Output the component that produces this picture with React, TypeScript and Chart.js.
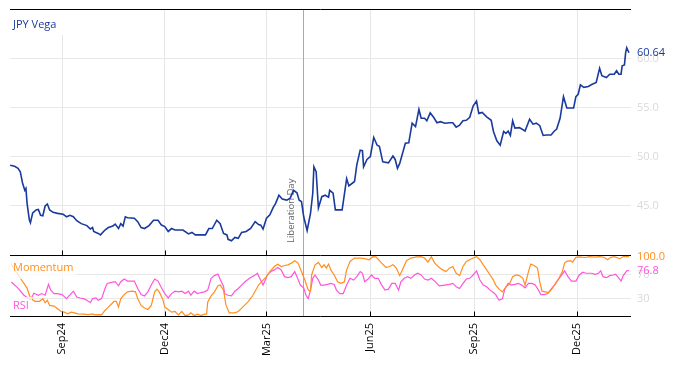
import { useEffect, useRef } from "react";
import { Chart, registerables } from "chart.js";

Chart.register(...registerables);

// x values are calendar days counted from 2024-07-01 (day 0)
const vegaDays = [16,20,23,25,27,29,30,31,33,34,36,39,41,43,45,47,49,51,54,58,63,66,69,72,75,79,84,87,89,90,94,96,100,103,107,109,112,114,116,118,120,126,129,132,135,139,143,147,150,153,156,159,162,166,169,174,177,180,184,189,192,195,199,202,205,208,209,212,215,218,221,225,229,233,236,238,240,243,246,249,251,253,254,257,261,264,267,270,272,274,276,279,282,284,285,287,289,292,295,298,299,302,304,310,314,316,321,323,326,328,329,332,335,338,341,343,346,351,355,357,359,361,366,369,372,375,378,380,383,385,388,391,394,397,401,405,408,411,414,417,420,423,426,429,431,434,438,442,444,447,450,453,455,457,459,461,463,467,472,476,479,482,485,488,491,495,498,500,503,506,509,512,515,517,519,521,524,528,531,535,538,540,544,547,551,553,555,557,558,560,561,562,564];
const vegaValues = [49.15,49.05,48.85,48.5,47.35,46.6,46.8,45.3,43.6,43.3,44.3,44.6,44.65,44.05,44.0,45.0,45.2,44.6,44.35,44.25,44.15,43.9,44.05,43.9,43.5,43.2,43.0,42.65,42.8,42.4,42.2,42.05,42.55,42.8,42.95,43.15,42.7,43.2,42.95,43.9,43.8,43.75,43.4,42.8,42.7,43.0,43.55,43.55,43.05,42.9,42.4,42.7,42.55,42.55,42.55,42.15,42.3,42.05,42.05,42.05,42.7,42.7,43.55,43.2,42.2,42.05,41.6,41.45,41.8,41.7,42.3,42.4,42.7,43.4,43.1,43.05,42.65,43.75,44.1,44.85,45.25,45.8,46.1,45.7,45.6,45.8,46.6,46.35,45.6,45.45,43.9,42.5,44.25,46.3,49.0,48.5,44.8,45.95,46.1,45.9,46.6,46.3,44.6,44.6,47.8,47.05,47.5,49.2,50.7,50.65,49.0,49.75,50.05,52.0,51.2,51.1,49.5,49.4,50.1,49.75,48.85,49.35,51.4,51.45,53.45,53.1,54.85,53.95,53.95,53.7,54.5,54.05,53.5,53.6,53.45,53.5,53.5,53.05,53.25,53.7,53.75,54.05,55.2,55.7,54.45,54.55,54.1,53.75,52.6,51.65,51.2,52.6,52.4,52.65,52.2,53.7,52.95,53.0,52.65,53.85,53.35,53.45,53.2,52.2,52.25,52.25,52.65,52.85,53.95,56.15,55.0,55.0,55.0,56.15,56.4,57.35,57.1,57.2,57.4,57.6,59.05,58.3,58.1,58.45,58.45,58.8,58.45,58.45,59.3,59.4,60.6,61.15,60.64];

const momentumDays = [17,25,31,34,38,42,45,47,49,51,55,58,61,64,67,70,73,76,81,85,89,91,94,97,100,103,106,108,110,112,114,117,120,124,127,129,132,135,138,141,144,146,148,151,153,156,159,162,165,168,171,174,176,179,182,185,188,190,191,194,197,200,202,205,207,210,215,218,222,227,231,236,240,243,246,250,253,256,259,262,265,268,271,274,277,280,282,283,286,289,292,294,296,298,300,303,306,309,312,314,317,321,326,330,334,337,340,345,349,352,355,358,361,364,367,371,376,380,383,386,389,392,395,399,402,405,408,411,414,417,420,423,426,429,432,435,438,441,444,446,449,452,455,458,461,464,467,470,472,475,477,480,483,485,487,490,493,496,499,502,505,507,509,512,514,517,520,525,529,534,538,542,545,548,551,556,559,564];
const momentumValues = [86.9,64.3,47.3,30.3,25.2,25.2,29.7,22.9,26.9,18.4,17.3,12.7,8.2,7.1,4.2,7.1,6.0,4.2,3.7,3.1,4.2,2.5,3.1,2.5,9.9,15.6,21.2,25.2,25.2,15.6,29.7,36.5,41.0,42.2,41.0,29.7,18.4,13.9,11.6,18.4,41.0,45.6,41.0,29.7,15.6,11.6,7.1,8.2,2.5,8.2,1.4,2.5,6.0,1.4,3.7,1.4,3.7,4.2,24.1,34.2,41.0,51.2,52.5,44.0,20.0,5.9,5.9,8.2,15.6,25.2,35.4,52.4,60.8,66.5,75.0,83.5,87.4,83.5,85.2,86.3,89.1,93.1,89.1,75.0,60.8,43.9,42.2,69.3,86.3,90.3,81.8,86.3,80.7,87.4,77.8,69.3,58.0,55.2,58.0,77.8,92.0,97.6,97.6,96.5,94.8,99.8,99.5,89.1,81.8,83.5,86.3,80.7,68.2,80.7,93.1,97.6,99.5,100,97.6,90.8,100,89.1,83.5,77.8,75.0,80.7,83.5,72.2,68.2,83.5,92.0,94.8,97.6,100,94.8,86.3,77.8,69.3,60.8,52.4,45.6,41.0,49.5,53.5,66.5,69.3,68.2,63.7,52.4,75.0,87.4,85.2,80.7,58.0,42.2,41.0,39.9,46.7,55.2,63.7,75.0,89.1,92.0,93.1,90.8,98.8,99.5,98.5,100,99.0,100,99.0,94.8,98.8,100,96.5,100,100];

const rsiDays = [17,23,28,34,37,41,44,47,50,52,55,58,62,66,70,72,75,78,81,84,87,89,92,94,97,100,102,106,109,112,114,117,120,123,126,129,132,135,138,141,144,147,150,153,156,159,162,165,168,171,174,176,179,182,185,188,191,194,197,200,202,205,206,209,212,215,218,221,224,228,233,235,237,240,242,244,247,250,253,256,259,262,265,268,270,273,276,278,280,282,284,286,289,291,294,297,300,303,305,308,311,314,317,320,323,326,328,330,333,336,339,342,345,348,351,354,357,360,362,365,368,371,374,377,380,383,386,389,392,396,401,405,408,411,414,417,420,423,426,429,432,435,438,441,444,446,449,452,454,457,460,463,466,469,472,475,478,481,483,486,489,492,495,498,501,504,507,510,513,517,520,523,526,531,534,537,539,541,544,547,550,552,554,557,559,562,564];
const rsiValues = [57.5,47.3,35.9,27.5,38.8,35.4,38.2,35.4,53.5,43.9,38.2,38.2,36.5,29.7,38.2,42.2,32.5,30.8,29.7,26.9,22.9,29.7,30.8,26.9,29.7,46.7,55.2,56.9,58.0,51.2,58.0,62.5,59.1,59.1,59.1,46.7,36.5,34.2,41.0,52.4,62.5,59.1,47.8,38.2,30.8,38.2,42.2,41.0,42.2,38.2,42.2,35.4,42.2,38.2,39.9,41.0,43.9,63.7,68.2,71.0,62.0,50.0,38.0,35.4,34.2,42.2,46.7,52.4,58.0,63.7,69.3,72.2,63.7,52.4,60.8,70.5,75.0,77.8,81.8,77.8,66.5,64.8,66.5,75.0,66.5,52.4,47.8,35.4,29.7,43.9,63.7,69.3,60.8,52.4,52.4,53.5,55.2,53.5,43.9,38.2,38.2,52.4,63.7,60.8,66.5,75.0,72.2,58.0,62.5,69.3,63.7,63.7,52.4,43.9,45.6,55.2,55.2,43.9,58.0,63.7,66.5,63.7,69.3,72.2,69.3,62.5,60.8,63.7,59.1,51.2,52.4,53.5,55.2,49.5,46.7,55.2,62.5,63.7,69.3,76.1,60.8,52.4,49.5,43.9,39.9,36.5,26.9,29.7,45.6,55.2,52.4,53.5,55.2,52.4,47.8,55.2,55.2,52.4,46.7,36.5,36.5,38.2,45.6,52.4,60.8,68.2,76.1,66.5,59.1,59.1,69.3,73.9,72.2,72.2,70.5,72.2,76.1,66.5,64.8,68.2,69.3,70.5,66.5,59.1,68.2,76.1,76.8];

const xTickDays = [62, 153, 243, 335, 427, 518];
const xTickLabels = ["Sep24", "Dec24", "Mar25", "Jun25", "Sep25", "Dec25"];
const vegaTicks = [45, 50, 55, 60];
const oscTicks = [30, 70];
const eventDay = 275;
const eventLabel = "Liberation Day";
const vegaName = "JPY Vega";
const momentumName = "Momentum";
const rsiName = "RSI";

const FONT = "'Open Sans', 'DejaVu Sans', sans-serif";
const C_VEGA = "#1a3a9e";
const C_MOM = "#ff8f1f";
const C_RSI = "#ff55dd";

export default function App() {
  const ref = useRef<HTMLCanvasElement>(null);

  useEffect(() => {
    if (!ref.current) return;
    const pts = (d: number[], v: number[]) => d.map((x, i) => ({ x, y: v[i] }));

    const overlay = {
      id: "overlay",
      beforeDatasetsDraw(chart: any) {
        const { ctx, chartArea } = chart;
        const ex = Math.round(chart.scales.x.getPixelForValue(eventDay)) + 0.5;
        ctx.save();
        ctx.strokeStyle = "#aaaaaa";
        ctx.lineWidth = 1;
        ctx.beginPath();
        ctx.moveTo(ex, chartArea.top);
        ctx.lineTo(ex, chartArea.bottom);
        ctx.stroke();
        ctx.translate(ex - 12, 243);
        ctx.rotate(-Math.PI / 2);
        ctx.fillStyle = "#666666";
        ctx.font = `9.5px ${FONT}`;
        ctx.textAlign = "left";
        ctx.textBaseline = "middle";
        ctx.fillText(eventLabel, 0, 0);
        ctx.restore();
      },
      afterDatasetsDraw(chart: any) {
        const { ctx, chartArea } = chart;
        const xs = chart.scales.x;
        const ys = chart.scales.y;
        const y2 = chart.scales.y2;
        const mid = Math.round(ys.bottom) + 0.5;
        const top = Math.round(chartArea.top) + 0.5;
        const bot = Math.round(chartArea.bottom) - 0.5;
        ctx.save();
        ctx.strokeStyle = "#000000";
        ctx.lineWidth = 1;
        ctx.beginPath();
        for (const yy of [top, mid, bot]) {
          ctx.moveTo(chartArea.left, yy);
          ctx.lineTo(chartArea.right, yy);
        }
        for (const d of xTickDays) {
          const px = Math.round(xs.getPixelForValue(d)) + 0.5;
          ctx.moveTo(px, mid - 5);
          ctx.lineTo(px, mid);
          ctx.moveTo(px, bot - 5);
          ctx.lineTo(px, bot);
        }
        ctx.stroke();

        // series name boxes
        ctx.fillStyle = "#ffffff";
        ctx.fillRect(chartArea.left, chartArea.top + 1, 53, 25);
        ctx.fillStyle = "rgba(255,255,255,0.75)";
        ctx.fillRect(chartArea.left, 258, 66, 21);
        ctx.fillRect(chartArea.left, 297, 22, 17);
        ctx.font = `11px ${FONT}`;
        ctx.textAlign = "left";
        ctx.textBaseline = "middle";
        ctx.fillStyle = C_VEGA;
        ctx.fillText(vegaName, 13, 25);
        ctx.fillStyle = C_MOM;
        ctx.fillText(momentumName, 13, 268);
        ctx.fillStyle = C_RSI;
        ctx.fillText(rsiName, 13, 306);

        // last value labels
        const lx = chartArea.right + 6;
        const lastV = vegaValues[vegaValues.length - 1];
        const lastM = momentumValues[momentumValues.length - 1];
        const lastR = rsiValues[rsiValues.length - 1];
        ctx.fillStyle = C_VEGA;
        ctx.fillText(lastV.toFixed(2), lx, ys.getPixelForValue(lastV));
        ctx.fillStyle = C_MOM;
        ctx.fillText(lastM.toFixed(1), lx, y2.getPixelForValue(lastM));
        ctx.fillStyle = C_RSI;
        ctx.fillText(lastR.toFixed(1), lx, y2.getPixelForValue(lastR));
        ctx.restore();
      },
    };

    const yFit = (ax: any) => {
      ax.width = 43;
      ax.paddingTop = 0;
      ax.paddingBottom = 0;
    };

    const chart = new Chart(ref.current, {
      type: "line",
      data: {
        datasets: [
          { label: vegaName, data: pts(vegaDays, vegaValues), yAxisID: "y", borderColor: C_VEGA, borderWidth: 1.6 },
          { label: momentumName, data: pts(momentumDays, momentumValues), yAxisID: "y2", borderColor: C_MOM, borderWidth: 1.2 },
          { label: rsiName, data: pts(rsiDays, rsiValues), yAxisID: "y2", borderColor: C_RSI, borderWidth: 1.2 },
        ],
      },
      options: {
        animation: false,
        responsive: false,
        maintainAspectRatio: false,
        layout: { padding: { left: 10, top: 9, right: 0, bottom: 0 } },
        plugins: { legend: { display: false }, tooltip: { enabled: false } },
        elements: { point: { radius: 0 }, line: { tension: 0 } },
        scales: {
          x: {
            type: "linear",
            min: 15.9,
            max: 565.8,
            afterBuildTicks: (ax: any) => {
              ax.ticks = xTickDays.map((v) => ({ value: v }));
            },
            afterFit: (ax: any) => {
              ax.height = 49;
              ax.paddingLeft = 0;
              ax.paddingRight = 0;
            },
            grid: { color: "#e6e6e6", drawTicks: false },
            border: { display: false },
            ticks: {
              autoSkip: false,
              maxRotation: 90,
              minRotation: 90,
              padding: 6,
              color: "#000000",
              font: { family: FONT, size: 11 },
              callback: (v: any) => xTickLabels[xTickDays.indexOf(Number(v))] ?? "",
            },
          },
          y: {
            type: "linear",
            position: "right",
            stack: "panels",
            stackWeight: 246,
            min: 40,
            max: 65.1,
            afterBuildTicks: (ax: any) => {
              ax.ticks = vegaTicks.map((v) => ({ value: v }));
            },
            afterFit: yFit,
            grid: { color: "#e8e8e8", drawTicks: false },
            border: { display: false },
            ticks: {
              padding: 6,
              color: "#d9d9d9",
              font: { family: FONT, size: 11 },
              callback: (v: any) => Number(v).toFixed(1),
            },
          },
          y2: {
            type: "linear",
            position: "right",
            stack: "panels",
            stackWeight: 62,
            min: -1,
            max: 102.7,
            afterBuildTicks: (ax: any) => {
              ax.ticks = oscTicks.map((v) => ({ value: v }));
            },
            afterFit: yFit,
            grid: { color: "#e8e8e8", drawTicks: false },
            border: { display: false },
            ticks: {
              padding: 6,
              color: "#d9d9d9",
              font: { family: FONT, size: 11 },
              callback: (v: any) => String(v),
            },
          },
        },
      },
      plugins: [overlay],
    } as any);

    return () => chart.destroy();
  }, []);

  return (
    <div style={{ position: "absolute", left: 0, top: 0, width: 674, height: 366, background: "#ffffff" }}>
      <canvas ref={ref} width={674} height={366} style={{ display: "block", width: 674, height: 366 }} />
    </div>
  );
}
